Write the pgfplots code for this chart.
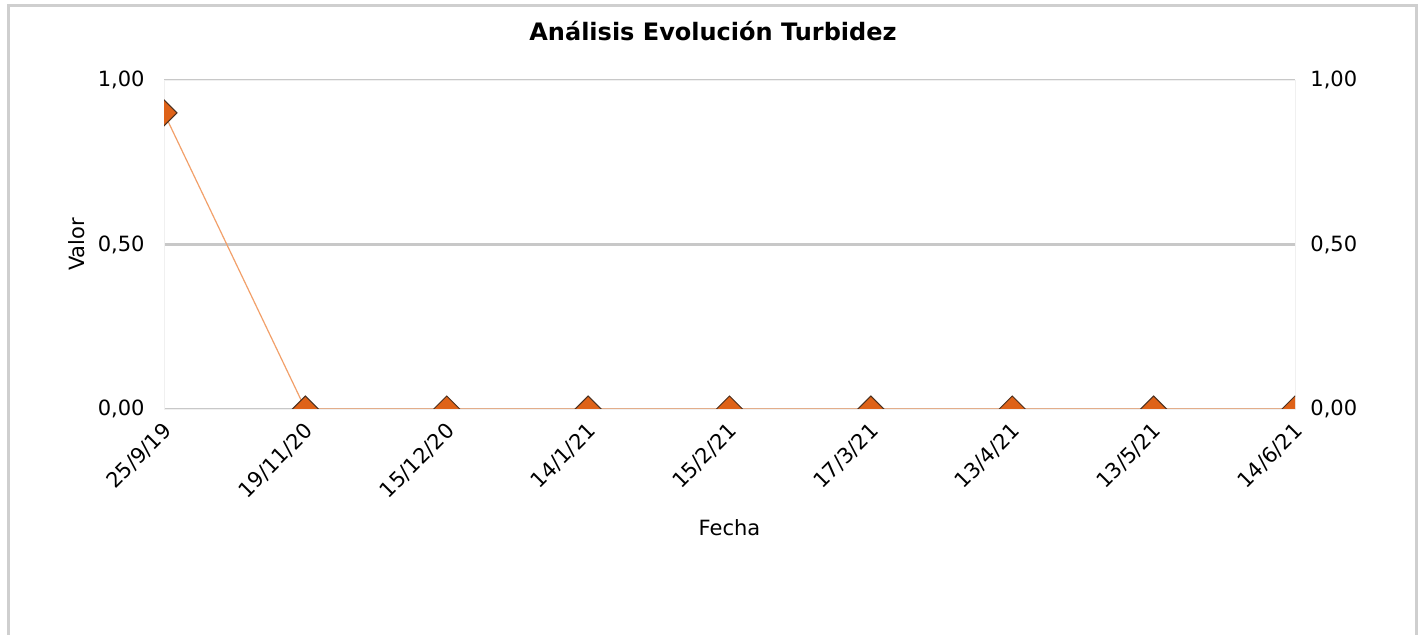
\documentclass[border=0pt]{standalone}
\usepackage{pgfplots}
\pgfplotsset{compat=1.18}
\usepackage{fontspec}
\setmainfont{DejaVu Sans}
\definecolor{mk}{HTML}{DE6218}
\definecolor{mkd}{HTML}{4A3020}
\definecolor{ln}{HTML}{F2A06A}
\definecolor{gr}{HTML}{C8C8C8}
\definecolor{fr}{HTML}{CFCFCF}
\begin{document}
\begin{tikzpicture}
\path[use as bounding box, fill=white] (0,0) rectangle (711.5pt,317.5pt);
\draw[fr, line width=1.5pt] (4.25pt,-5pt) -- (4.25pt,314.5pt) -- (708pt,314.5pt) -- (708pt,-5pt);
\begin{axis}[
  at={(82pt,113pt)}, anchor=south west,
  scale only axis, width=565.5pt, height=164.5pt,
  xmin=0, xmax=8, ymin=0, ymax=1,
  xtick={0,...,8},
  xticklabels={25/9/19,19/11/20,15/12/20,14/1/21,15/2/21,17/3/21,13/4/21,13/5/21,14/6/21},
  ytick={0,0.5,1},
  yticklabels={{0,00},{0,50},{1,00}},
  major tick length=0pt,
  ymajorgrids, major grid style={gr, line width=1.2pt},
  x axis line style={draw=none},
  y axis line style={draw=black!6},
  tick label style={font=\fontsize{10.5}{12}\selectfont},
  xticklabel style={rotate=45, anchor=east, inner sep=1pt, yshift=-8pt, xshift=-4pt},
  yticklabel style={inner sep=0pt, xshift=-9.5pt},
  xlabel={Fecha}, ylabel={Valor},
  label style={font=\fontsize{10.5}{12}\selectfont},
  xlabel style={at={(axis description cs:0.5,-0.3617)}, anchor=center},
  ylabel style={at={(axis description cs:-0.0769,0.5)}, anchor=center},
  title={\textbf{Análisis Evolución Turbidez}},
  title style={font=\fontsize{12}{14}\selectfont, at={(axis description cs:0.4854,1.1125)}, anchor=center},
  clip marker paths=true,
]
\addplot[ln, line width=0.6pt, mark=square*, mark size=4.6pt,
  mark options={rotate=45, fill=mk, draw=mkd, line width=0.5pt}]
  coordinates {(0,0.9) (1,0) (2,0) (3,0) (4,0) (5,0) (6,0) (7,0) (8,0)};
\end{axis}
\begin{axis}[
  at={(82pt,113pt)}, anchor=south west,
  scale only axis, width=565.5pt, height=164.5pt,
  xmin=0, xmax=8, ymin=0, ymax=1,
  axis line style={draw=none}, xtick=\empty,
  ytick={0,0.5,1},
  yticklabels={{0,00},{0,50},{1,00}},
  yticklabel pos=right,
  major tick length=0pt,
  tick label style={font=\fontsize{10.5}{12}\selectfont},
  yticklabel style={inner sep=0pt, xshift=7.5pt, anchor=west},
]
\addplot[draw=none] coordinates {(0,0)};
\end{axis}
\end{tikzpicture}
\end{document}
